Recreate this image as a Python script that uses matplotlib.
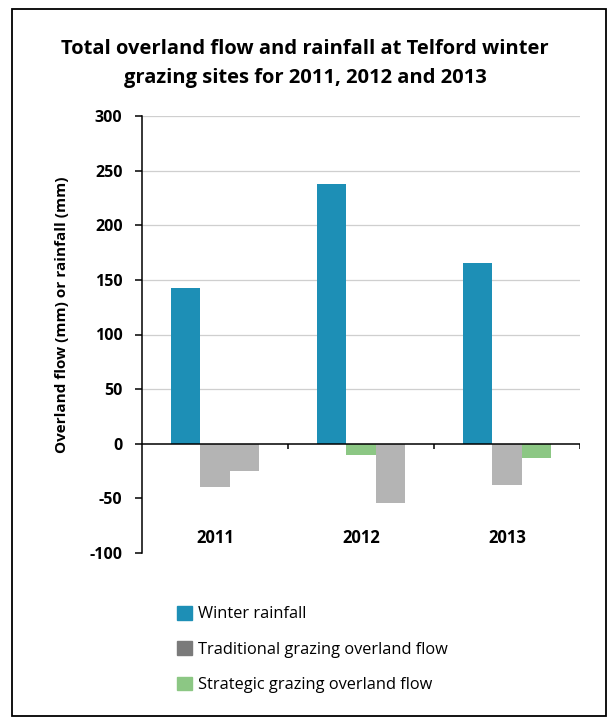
import matplotlib.pyplot as plt
from matplotlib.patches import Patch, Rectangle
import numpy as np

plt.rcParams['font.family'] = ['Open Sans', 'DejaVu Sans']
plt.rcParams['axes.unicode_minus'] = False

# Data (mm)
years = ['2011', '2012', '2013']
rainfall = [143, 238, 165]
traditional = [-40, -54, -38]
strategic = [-25, -10, -13]

# slot of each negative bar inside its group (0 = rainfall slot)
trad_slot = [1, 2, 1]
strat_slot = [2, 1, 2]

blue = '#1d8fb6'
grey = '#b4b4b4'
green = '#8cc784'
strat_colors = [grey, green, green]

fig = plt.figure(figsize=(6.08, 7.23), dpi=100)
ax = fig.add_axes([142/608, 1 - 553/723, (580 - 142)/608, (553 - 116)/723])

x = np.arange(len(years))
w = 0.2
ax.bar(x - w, rainfall, w, color=blue, align='center')
ax.bar(x - w + np.array(trad_slot) * w, traditional, w, color=grey)
ax.bar(x - w + np.array(strat_slot) * w, strategic, w, color=strat_colors)

ax.set_xlim(-0.5, 2.5)
ax.set_ylim(-100, 300)
ax.set_yticks(range(-100, 301, 50))
ax.set_xticks([])
for yv in range(50, 301, 50):
    ax.axhline(yv, color='#cfcfcf', lw=0.9, zorder=0)
ax.axhline(0, color='black', lw=1.1, zorder=3)
ax.vlines([0.5, 1.5, 2.5], -5, 0, color='black', lw=1.1, zorder=3)

for s in ['top', 'right', 'bottom']:
    ax.spines[s].set_visible(False)
ax.spines['left'].set_linewidth(1.1)
ax.tick_params(axis='y', length=5, width=1.1, pad=9)
for lab in ax.get_yticklabels():
    lab.set_fontweight('bold')
    lab.set_fontsize(11.5)

for i, yr in enumerate(years):
    ax.text(i, -86, yr, ha='center', va='center', fontsize=12, fontweight='bold')

fig.text(62/608, 1 - 315/723, 'Overland flow (mm) or rainfall (mm)', rotation=90,
         ha='center', va='center', fontsize=11, fontweight='bold')

fig.text(305/608, 1 - 64/723,
         'Total overland flow and rainfall at Telford winter\ngrazing sites for 2011, 2012 and 2013',
         ha='center', va='center', fontsize=14.5, fontweight='bold', linespacing=1.6)

handles = [Patch(color=blue), Patch(color='#7a7a7a'), Patch(color=green)]
labels = ['Winter rainfall', 'Traditional grazing overland flow', 'Strategic grazing overland flow']
fig.legend(handles, labels, loc='upper left', bbox_to_anchor=(177/608, 1 - 606/723),
           frameon=False, fontsize=11.8, handlelength=0.9, handleheight=0.9,
           handletextpad=0.4, labelspacing=1.15, borderpad=0, borderaxespad=0)

fig.add_artist(Rectangle((12/608, 1 - 716/723), (606 - 12)/608, (716 - 9)/723,
                         transform=fig.transFigure, fill=False, ec='black', lw=1.3))

fig.savefig('out.png', dpi=100)
